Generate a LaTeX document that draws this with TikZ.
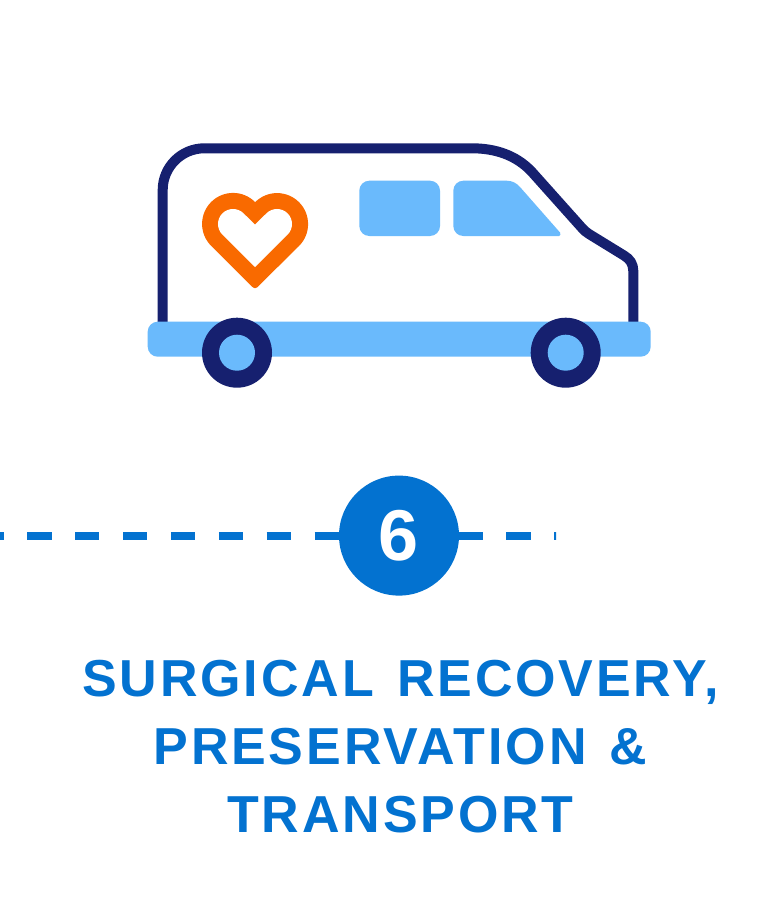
\documentclass[tikz,border=0pt]{standalone}
\usepackage{fontspec}
\setmainfont{Liberation Sans}
\definecolor{navy}{HTML}{16206F}
\definecolor{sky}{HTML}{6ABAFC}
\definecolor{flame}{HTML}{F96A00}
\definecolor{azure}{HTML}{0372D0}
\newfontfamily\titlefont[LetterSpace=5.5,Ligatures=NoCommon]{Liberation Sans Bold}
\tikzset{
  vanline/.style={draw=navy,line width=10pt,line join=round},
  lightfill/.style={fill=sky,draw=none},
  wheelouter/.style={circle,fill=navy,draw=none,minimum size=70pt,inner sep=0pt},
  wheelinner/.style={circle,fill=sky,draw=none,minimum size=36pt,inner sep=0pt},
  titletext/.style={text=azure,font=\titlefont\fontsize{52}{52}\selectfont,anchor=base,inner sep=0pt},
  badge/.style={circle,fill=azure,draw=none,minimum size=120pt,inner sep=0pt,text=white,font=\bfseries\fontsize{72}{72}\selectfont}
}
\begin{document}
\begin{tikzpicture}[x=1pt,y=1pt,yscale=-1]
\useasboundingbox (0,0) rectangle (768,920);
\fill[white] (0,0) rectangle (768,920);
% van body
\draw[vanline] (162.7,322) -- (162.7,190) arc[start angle=180,end angle=270,radius=41.7]
  -- (472,148.3) .. controls (495,148.3) and (516,155) .. (531.7,171.7)
  -- (582,228) .. controls (584,230.5) and (586,232) .. (589,234)
  -- (624,255.5) .. controls (630,259) and (633.3,264) .. (633.3,271) -- (633.3,322);
% chassis
\fill[lightfill,rounded corners=10pt] (147.7,321.7) rectangle (650.7,356.7);
% wheels
\node[wheelouter] (wl) at (237,352.7) {};
\node[wheelinner] (wli) at (237,352.7) {};
\node[wheelouter] (wr) at (565.7,352.7) {};
\node[wheelinner] (wri) at (565.7,352.7) {};
% windows
\fill[lightfill,rounded corners=10pt] (359.3,180.7) rectangle (440,236);
\fill[lightfill] (463.3,180.7) -- (506.7,180.7) .. controls (512,180.7) and (516.5,183) .. (520,187)
  -- (560,232.5) .. controls (561,234) and (560.5,236) .. (559,236)
  -- (463.3,236) arc[start angle=90,end angle=180,radius=10]
  -- (453.3,190.7) arc[start angle=180,end angle=270,radius=10] -- cycle;
% heart
\fill[flame] (255,202) arc[start angle=-45,end angle=-225,radius=31]
  -- (252.9,287.4) .. controls (254,288.5) and (256,288.5) .. (257.1,287.4)
  -- (299,246) arc[start angle=45,end angle=-135,radius=31] -- cycle;
\fill[white] (255,224.6) -- (243.6,213.4) arc[start angle=-45,end angle=-225,radius=15]
  -- (255,267) -- (287.6,234.6) arc[start angle=45,end angle=-135,radius=15] -- cycle;
% dashed line
\begin{scope}
\clip (0,525) rectangle (556,546);
\coordinate (ds) at (-20.7,535.6);
\coordinate (de) at (580,535.6);
\draw[azure,line width=8pt,dash pattern=on 24.3pt off 23.6pt] (ds) -- (de);
\end{scope}
\node[badge] (six) at (399,535.6) {6};
% title
\node[titletext] (t1) at (400.5,696) {SURGICAL\hspace{6pt} RECOVERY,};
\node[titletext] (t2) at (400.5,764) {PRESERVATION\hspace{6pt} \&};
\node[titletext] (t3) at (400.5,832) {TRANSPORT};
\end{tikzpicture}
\end{document}
